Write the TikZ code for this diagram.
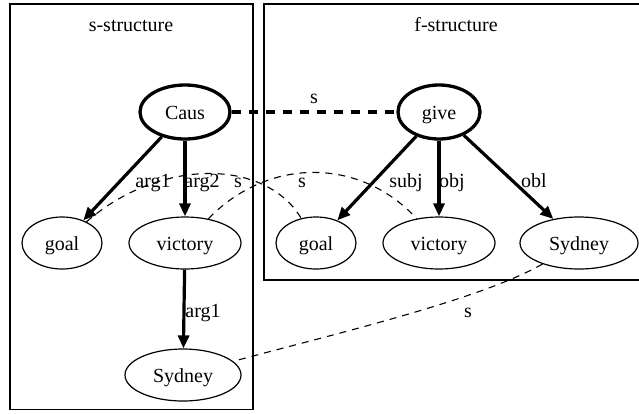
\documentclass[tikz,border=0pt]{standalone}
\usepackage{fontspec}
\setmainfont{Liberation Serif}
\usetikzlibrary{arrows.meta,shapes.geometric}
\begin{document}
\begin{tikzpicture}[x=1pt,y=-1pt,
  font=\fontsize{20}{24}\selectfont,
  nd/.style={ellipse,draw,line width=1.2pt,inner sep=0pt,minimum height=52pt,
             text height=14pt,text depth=0pt},
  boldnd/.style={nd,line width=3.3pt,minimum height=54pt},
  arc/.style={line width=3.2pt,-{Triangle[length=13pt,width=11pt]}},
  lab/.style={anchor=base,inner sep=0pt},
  slink/.style={dash pattern=on 7pt off 6pt,line width=1.1pt},
  corr/.style={line width=4pt,dash pattern=on 9pt off 8pt},
  frame/.style={draw,line width=1.2pt}]
\useasboundingbox (0,0) rectangle (639,413);

% cluster frames
\draw[frame] (10,4) rectangle (253,409.5);
\draw[frame] (264,4) rectangle (645,280);
\node[lab] (stitle) at (131,31) {s-structure};
\node[lab] (ftitle) at (456,31) {f-structure};

% s-structure nodes
\node[boldnd,minimum width=90pt] (caus) at (185,112) {Caus};
\node[nd,minimum width=80pt]  (gl) at (62,243)  {goal};
\node[nd,minimum width=112pt] (vl) at (185,243) {victory};
\node[nd,minimum width=116pt] (sl) at (183,375) {Sydney};

% f-structure nodes
\node[boldnd,minimum width=82pt] (give) at (439,112) {give};
\node[nd,minimum width=80pt]  (gr) at (316,243) {goal};
\node[nd,minimum width=112pt] (vr) at (439,243) {victory};
\node[nd,minimum width=118pt] (sr) at (579,243) {Sydney};

% argument edges
\draw[arc] (caus) -- (gl);
\draw[arc] (caus) -- (vl);
\draw[arc] (vl) -- (sl);
\draw[arc] (give) -- (gr);
\draw[arc] (give) -- (vr);
\draw[arc] (give) -- (sr);

% correspondence links
\draw[corr] (caus) -- (give);
\draw[slink] (gl) .. controls (160,158) and (265,158) .. (gr);
\draw[slink] (vl) .. controls (268,157) and (360,157) .. (vr);
\draw[slink] (sr) .. controls (480,300) and (330,335) .. (sl);

% edge labels
\node[lab] (la1) at (153,187) {arg1};
\node[lab] (la2) at (202,187) {arg2};
\node[lab] (ls1) at (238,187) {s};
\node[lab] (ls2) at (302,187) {s};
\node[lab] (lsu) at (406,187) {subj};
\node[lab] (lob) at (452,187) {obj};
\node[lab] (lobl) at (534,187) {obl};
\node[lab] (lsc) at (314,103) {s};
\node[lab] (la3) at (203,317) {arg1};
\node[lab] (ls3) at (468,317) {s};
\end{tikzpicture}
\end{document}
